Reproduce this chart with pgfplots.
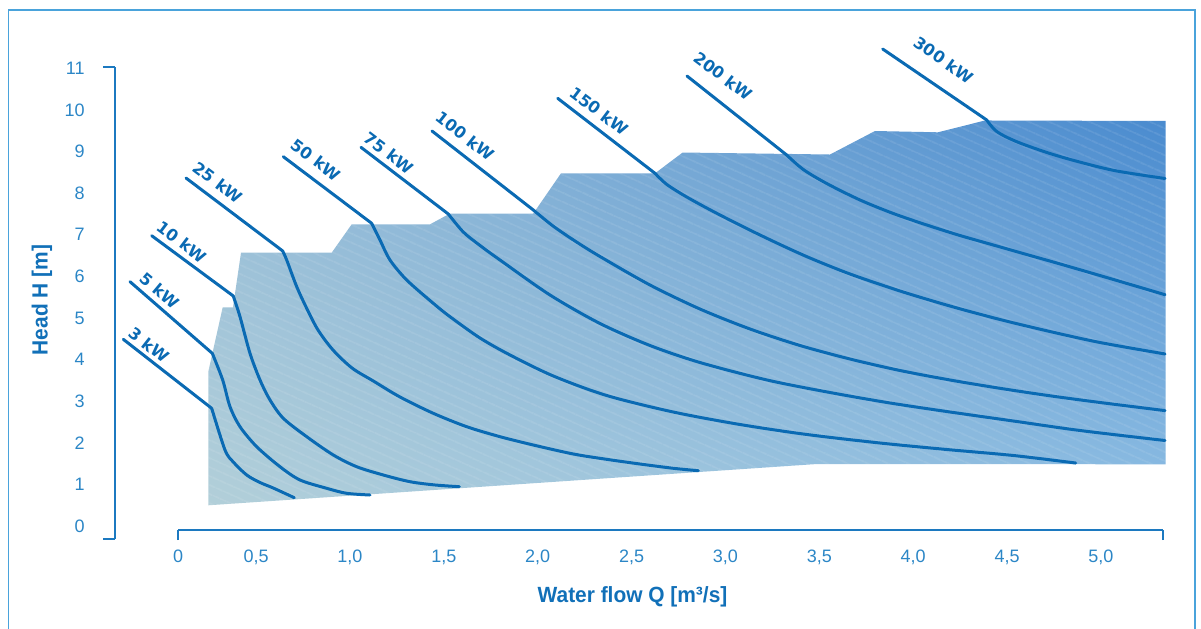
\documentclass[border=0pt]{standalone}
\usepackage{fontspec}
\setmainfont{Liberation Sans}
\newfontfamily\labfont{DejaVu Sans}
\newfontfamily\titlefont{Liberation Sans}[FakeStretch=0.95]
\usepackage{pgfplots}
\pgfplotsset{compat=1.18}
\usetikzlibrary{shadings,patterns.meta}
\definecolor{framecol}{HTML}{4AA3DB}
\definecolor{tickcol}{HTML}{2B86C6}
\definecolor{axcol}{HTML}{1C79C0}
\definecolor{titlecol}{HTML}{1170B8}
\definecolor{curvecol}{HTML}{0A6AB3}
\definecolor{fillLL}{HTML}{B2CFD9}
\definecolor{fillUL}{HTML}{95BCD8}
\definecolor{fillUR}{HTML}{4A8BCF}
\definecolor{fillLR}{HTML}{8EBEE3}
\begin{document}
\begin{tikzpicture}[
  crv/.style={curvecol, line width=1.5pt, line join=round, line cap=round},
  lab/.style={font=\labfont\bfseries\fontsize{8.1}{9}\selectfont, text=curvecol, inner sep=0pt},
  ttl/.style={font=\titlefont\bfseries\fontsize{11}{13}\selectfont, text=titlecol, inner sep=0pt}]
\begin{axis}[name=main, at={(0,0)}, anchor=south west, scale only axis,
  width=600.5pt, height=314pt,
  xmin=-0.86391, xmax=5.53289, ymin=-2.45192, ymax=12.64423,
  hide axis, clip=false]
% operating region
\addplot[draw=none, shade, shading=bilinear interpolation,
  lower left=fillLL, upper left=fillUL, upper right=fillUR, lower right=fillLR]
  coordinates {(0.2455,0.4976) (0.2455,3.709) (0.3222,5.257) (0.3771,5.257)
  (0.4197,6.570) (0.9028,6.570) (1.0093,7.252) (1.4264,7.252) (1.5329,7.512)
  (1.9766,7.512) (2.1241,8.478) (2.6248,8.478) (2.7723,8.978) (3.5568,8.930)
  (3.7965,9.495) (4.1321,9.464) (4.3824,9.748) (5.3438,9.736) (5.3438,1.483)
  (3.4876,1.490)} -- cycle;
\addplot[draw=none, pattern={Lines[angle=-24,distance=4pt,line width=0.3pt]},
  pattern color=white, fill opacity=0.25]
  coordinates {(0.2455,0.4976) (0.2455,3.709) (0.3222,5.257) (0.3771,5.257)
  (0.4197,6.570) (0.9028,6.570) (1.0093,7.252) (1.4264,7.252) (1.5329,7.512)
  (1.9766,7.512) (2.1241,8.478) (2.6248,8.478) (2.7723,8.978) (3.5568,8.930)
  (3.7965,9.495) (4.1321,9.464) (4.3824,9.748) (5.3438,9.736) (5.3438,1.483)
  (3.4876,1.490)} -- cycle;
% 3 kW
\addplot[crv] coordinates {(-0.2072,4.488) (0.2636,2.829)};
\addplot[crv, smooth, tension=0.5] coordinates {(0.2636,2.829) (0.3345,1.827) (0.3787,1.538) (0.4501,1.226) (0.5209,1.046) (0.5917,0.913) (0.7036,0.680)};
% 5 kW
\addplot[crv] coordinates {(-0.1715,5.873) (0.2668,4.151)};
\addplot[crv, smooth, tension=0.5] coordinates {(0.2668,4.151) (0.3222,3.510) (0.3611,2.868) (0.4144,2.387) (0.5033,1.906) (0.6274,1.425) (0.7340,1.106) (0.8762,0.906) (0.9827,0.786) (1.1068,0.745)};
% 10 kW
\addplot[crv] coordinates {(-0.0559,6.978) (0.3787,5.529)};
\addplot[crv, smooth, tension=0.5] coordinates {(0.3787,5.529) (0.4144,5.031) (0.4676,4.151) (0.5209,3.510) (0.5742,3.029) (0.6450,2.589) (0.7696,2.147) (0.9113,1.707) (1.0359,1.425) (1.1776,1.226) (1.3198,1.065) (1.4530,0.986) (1.5824,0.945)};
% 25 kW
\addplot[crv] coordinates {(0.1268,8.365) (0.6418,6.611)};
\addplot[crv, smooth, tension=0.5] coordinates {(0.6418,6.611) (0.6631,6.394) (0.7164,5.753) (0.7696,5.233) (0.8298,4.712) (0.9097,4.231) (1.0109,3.798) (1.1244,3.486) (1.2666,3.101) (1.4439,2.709) (1.6218,2.387) (1.7992,2.147) (1.9766,1.947) (2.1896,1.731) (2.3675,1.603) (2.5449,1.490) (2.7222,1.387) (2.8554,1.329)};
% 50 kW
\addplot[crv] coordinates {(0.6450,8.878) (1.1158,7.276)};
\addplot[crv, smooth, tension=0.5] coordinates {(1.1158,7.276) (1.1600,6.875) (1.2133,6.394) (1.3023,5.913) (1.4439,5.353) (1.5329,5.031) (1.6927,4.519) (1.8525,4.111) (2.0831,3.606) (2.3675,3.137) (2.7222,2.740) (3.0775,2.440) (3.4328,2.200) (3.8232,1.995) (4.1784,1.839) (4.5332,1.695) (4.8655,1.514)};
% 75 kW
\addplot[crv] coordinates {(1.0588,9.103) (1.5238,7.500)};
\addplot[crv, smooth, tension=0.5] coordinates {(1.5238,7.500) (1.6037,7.067) (1.6927,6.743) (1.7992,6.394) (2.0655,5.553) (2.3318,4.868) (2.5981,4.339) (2.8644,3.930) (3.2213,3.510) (3.5569,3.209) (3.8765,2.957) (4.1784,2.752) (4.5332,2.524) (4.8884,2.296) (5.3411,2.055)};
% 100 kW
\addplot[crv] coordinates {(1.4370,9.495) (1.9766,7.596)};
\addplot[crv, smooth, tension=0.5] coordinates {(1.9766,7.596) (2.0815,7.212) (2.1986,6.851) (2.3318,6.478) (2.5981,5.793) (2.8644,5.216) (3.1307,4.736) (3.3971,4.339) (3.6634,4.014) (3.9297,3.738) (4.1960,3.510) (4.4623,3.310) (4.7286,3.130) (4.9949,2.969) (5.3411,2.774)};
% 150 kW
\addplot[crv] coordinates {(2.1065,10.281) (2.6248,8.478)};
\addplot[crv, smooth, tension=0.5] coordinates {(2.6248,8.478) (2.6871,8.212) (2.7936,7.909) (2.9353,7.560) (3.1132,7.151) (3.2905,6.767) (3.4503,6.442) (3.6634,6.058) (3.9297,5.649) (4.1960,5.288) (4.4623,4.964) (4.7286,4.675) (4.9949,4.411) (5.3411,4.135)};
% 200 kW
\addplot[crv] coordinates {(2.7952,10.817) (3.3262,8.918)};
\addplot[crv, smooth, tension=0.5] coordinates {(3.3262,8.918) (3.4146,8.570) (3.5393,8.233) (3.7166,7.837) (3.8940,7.512) (4.0719,7.236) (4.2493,6.983) (4.4266,6.755) (4.6045,6.526) (4.7818,6.300) (5.0482,5.950) (5.3411,5.560)};
% 300 kW
\addplot[crv] coordinates {(3.8375,11.466) (4.3915,9.760)};
\addplot[crv, smooth, tension=0.5] coordinates {(4.3915,9.760) (4.4447,9.483) (4.5513,9.238) (4.7286,8.954) (4.9059,8.726) (5.0839,8.534) (5.3411,8.353)};
% curve labels
\node[lab, rotate=-38] at (axis cs:-0.0703,4.351) {3 kW};
\node[lab, rotate=-40] at (axis cs:-0.0117,5.649) {5 kW};
\node[lab, rotate=-37] at (axis cs:0.1055,6.827) {10 kW};
\node[lab, rotate=-37] at (axis cs:0.2972,8.260) {25 kW};
\node[lab, rotate=-37] at (axis cs:0.8192,8.798) {50 kW};
\node[lab, rotate=-37] at (axis cs:1.2080,8.966) {75 kW};
\node[lab, rotate=-38] at (axis cs:1.6128,9.375) {100 kW};
\node[lab, rotate=-37] at (axis cs:2.3265,9.976) {150 kW};
\node[lab, rotate=-37] at (axis cs:2.9883,10.817) {200 kW};
\node[lab, rotate=-35] at (axis cs:4.1640,11.202) {300 kW};
% titles
\node[ttl] at (axis cs:2.505,-1.707) {Water flow Q [m³/s]};
\node[ttl, rotate=90] at (axis cs:-0.6402,5.433) {Head H [m]};
% frame
\draw[framecol, line width=0.75pt] (axis cs:-0.8197,-2.7) -- (axis cs:-0.8197,12.404) -- (axis cs:5.5009,12.404) -- (axis cs:5.5009,-2.7);
\end{axis}
% x axis
\begin{axis}[at={(89pt,49pt)}, anchor=south west, scale only axis,
  width=492.35pt, height=20pt, xmin=0.0841, xmax=5.329, ymin=0, ymax=1,
  axis x line*=bottom, axis y line=none, ytick=\empty,
  x axis line style={axcol, line width=1pt},
  xtick={0.0842,0.5,1,1.5,2,2.5,3,3.5,4,4.5,5},
  xticklabels={0,{0,5},{1,0},{1,5},{2,0},{2,5},{3,0},{3,5},{4,0},{4,5},{5,0}},
  major tick length=0pt,
  xticklabel style={font=\fontsize{9}{10}\selectfont, text=tickcol, anchor=north, inner sep=0pt, yshift=-10pt},
  extra x ticks={0.0841,5.329}, extra x tick labels={},
  extra x tick style={major tick length=5pt, tick align=outside, tick style={axcol, line width=1pt}}]
\end{axis}
% y axis
\begin{axis}[at={(57.5pt,44.5pt)}, anchor=south west, scale only axis,
  width=10pt, height=236.15pt, ymin=-0.3125, ymax=11.041, xmin=0, xmax=1,
  axis y line*=left, axis x line=none, xtick=\empty,
  y axis line style={axcol, line width=1pt},
  ytick={0,1,2,3,4,5,6,7,8,9,10,11},
  yticklabels={0,1,2,3,4,5,6,7,8,9,10,11},
  major tick length=0pt,
  yticklabel style={font=\fontsize{9}{10}\selectfont, text=tickcol, anchor=east, inner sep=0pt, xshift=-15pt},
  extra y ticks={-0.3125,11.041}, extra y tick labels={},
  extra y tick style={major tick length=6pt, tick align=outside, tick style={axcol, line width=1pt}}]
\end{axis}
\pgfresetboundingbox
\path[use as bounding box] (main.south west) rectangle (main.north east);
\end{tikzpicture}
\end{document}
